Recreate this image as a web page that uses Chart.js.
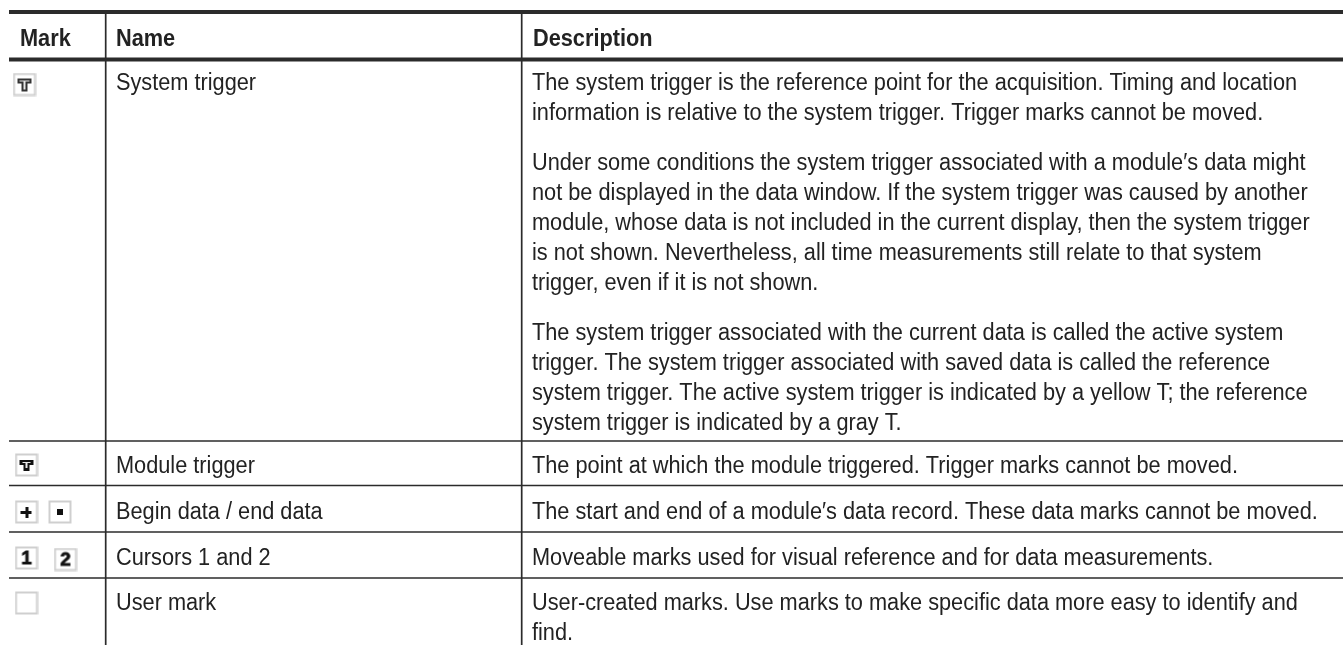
<!DOCTYPE html>
<html>
<head>
<meta charset="utf-8">
<script src="https://cdn.jsdelivr.net/npm/chart.js@4"></script>
<style>
html, body { margin: 0; padding: 0; background: #fff; overflow: hidden; }
#wrap { width: 1343px; height: 646px; }
</style>
</head>
<body>
<div id="wrap"><canvas id="tableChart"></canvas></div>
<script>
// table grid, in picture units
const ruleHeavy = [12, 59.5];
const ruleLight = [441, 485.5, 532, 578];
const columnEdges = [105.7, 521.7];
const gridLeft = 9, gridRight = 1343, gridTop = 12, gridBottom = 645;

const headerTexts = ['Mark', 'Name', 'Description'];
const headerX = [20, 116, 533];
const headerY = [46, 46, 46];

const nameTexts = ['System trigger', 'Module trigger', 'Begin data / end data', 'Cursors 1 and 2', 'User mark'];
const nameY = [90, 473, 519, 565, 610];

const descriptionTexts = [
  'The system trigger is the reference point for the acquisition. Timing and location',
  'information is relative to the system trigger. Trigger marks cannot be moved.',
  'Under some conditions the system trigger associated with a module\u2032s data might',
  'not be displayed in the data window. If the system trigger was caused by another',
  'module, whose data is not included in the current display, then the system trigger',
  'is not shown. Nevertheless, all time measurements still relate to that system',
  'trigger, even if it is not shown.',
  'The system trigger associated with the current data is called the active system',
  'trigger. The system trigger associated with saved data is called the reference',
  'system trigger. The active system trigger is indicated by a yellow T; the reference',
  'system trigger is indicated by a gray T.',
  'The point at which the module triggered. Trigger marks cannot be moved.',
  'The start and end of a module\u2032s data record. These data marks cannot be moved.',
  'Moveable marks used for visual reference and for data measurements.',
  'User-created marks. Use marks to make specific data more easy to identify and',
  'find.'
];
const descriptionY = [90, 120, 170, 200, 230, 260, 290, 340, 370, 400, 430, 473, 519, 565, 610, 640];

const markKinds = ['systemT', 'moduleT', 'begin', 'end', 'one', 'two', 'user'];
const markX = [24.5, 26.5, 26.5, 60, 26.5, 65.5, 26.5];
const markY = [84.5, 465, 512, 512, 558, 559.5, 603];

const TEXT_FONT = '"Liberation Sans", sans-serif';
const TEXT_SQUEEZE = 0.945;

// small canvases used as point styles for the marks
function makeMark(kind) {
  const c = document.createElement('canvas');
  c.width = 24; c.height = 24;
  const g = c.getContext('2d');
  g.strokeStyle = '#cfcfcf';
  g.lineWidth = 2;
  g.strokeRect(1.5, 1.5, 21, 21);
  g.fillStyle = '#111';
  if (kind === 'systemT') {
    g.fillStyle = '#333';
    g.fillRect(5, 6, 14, 5);
    g.fillRect(9, 6, 6, 13);
    g.fillStyle = '#e8e8e8';
    g.fillRect(7, 8, 10, 1);
    g.fillRect(11, 8, 2, 9);
  } else if (kind === 'moduleT') {
    g.fillRect(5, 7, 14, 5);
    g.fillRect(9, 12, 6, 6);
    g.fillStyle = '#e8e8e8';
    g.fillRect(8, 9, 8, 1);
    g.fillRect(11, 10, 2, 5);
  } else if (kind === 'begin') {
    g.fillRect(6, 11, 11, 3);
    g.fillRect(11, 7, 3, 11);
  } else if (kind === 'end') {
    g.fillRect(9, 9, 6, 6);
  } else if (kind === 'one' || kind === 'two') {
    g.font = 'bold 19px "Liberation Sans"';
    g.textAlign = 'center';
    g.textBaseline = 'middle';
    g.lineWidth = 0.8;
    g.strokeStyle = '#111';
    g.fillText(kind === 'one' ? '1' : '2', 12, 13);
    g.strokeText(kind === 'one' ? '1' : '2', 12, 13);
  }
  return c;
}

function gridLine(xs, ys, width) {
  return {
    type: 'line',
    data: xs.map((x, i) => ({ x: x, y: ys[i] })),
    borderColor: '#2b2b2b',
    borderWidth: width,
    pointRadius: 0,
    tension: 0
  };
}

function textSet(texts, xs, ys, font) {
  return {
    type: 'scatter',
    data: texts.map((t, i) => ({ x: xs[i], y: ys[i], text: t })),
    pointRadius: 0,
    textFont: font
  };
}

const datasets = [];
ruleHeavy.forEach(y => datasets.push(gridLine([gridLeft, gridRight], [y, y], 4)));
ruleLight.forEach(y => datasets.push(gridLine([gridLeft, gridRight], [y, y], 1.7)));
columnEdges.forEach(x => datasets.push(gridLine([x, x], [gridTop, gridBottom], 1.7)));
datasets.push(textSet(headerTexts, headerX, headerY, 'bold 23px ' + TEXT_FONT));
datasets.push(textSet(nameTexts, nameTexts.map(() => 116), nameY, '23px ' + TEXT_FONT));
datasets.push(textSet(descriptionTexts, descriptionTexts.map(() => 532), descriptionY, '23px ' + TEXT_FONT));
datasets.push({
  type: 'scatter',
  data: markKinds.map((k, i) => ({ x: markX[i], y: markY[i] })),
  pointStyle: markKinds.map(makeMark),
  pointRadius: 12
});

// writes the text of each row where the scales put its point
const rowTextPlugin = {
  id: 'rowText',
  afterDatasetsDraw(chart) {
    const ctx = chart.ctx;
    ctx.save();
    ctx.fillStyle = '#222';
    ctx.textAlign = 'left';
    ctx.textBaseline = 'alphabetic';
    chart.data.datasets.forEach((ds, i) => {
      if (!ds.textFont) return;
      ctx.font = ds.textFont;
      chart.getDatasetMeta(i).data.forEach((pt, j) => {
        ctx.save();
        ctx.translate(pt.x, pt.y);
        ctx.scale(TEXT_SQUEEZE, 1);
        ctx.fillText(ds.data[j].text, 0, 0);
        ctx.restore();
      });
    });
    ctx.restore();
  }
};

new Chart(document.getElementById('tableChart').getContext('2d'), {
  type: 'scatter',
  data: { datasets: datasets },
  plugins: [rowTextPlugin],
  options: {
    responsive: true,
    maintainAspectRatio: false,
    animation: false,
    layout: { padding: 0, autoPadding: false },
    plugins: { legend: { display: false }, tooltip: { enabled: false } },
    scales: {
      x: { type: 'linear', min: 0, max: 1343, display: false },
      y: { type: 'linear', min: 0, max: 646, reverse: true, display: false }
    }
  }
});
</script>
</body>
</html>
